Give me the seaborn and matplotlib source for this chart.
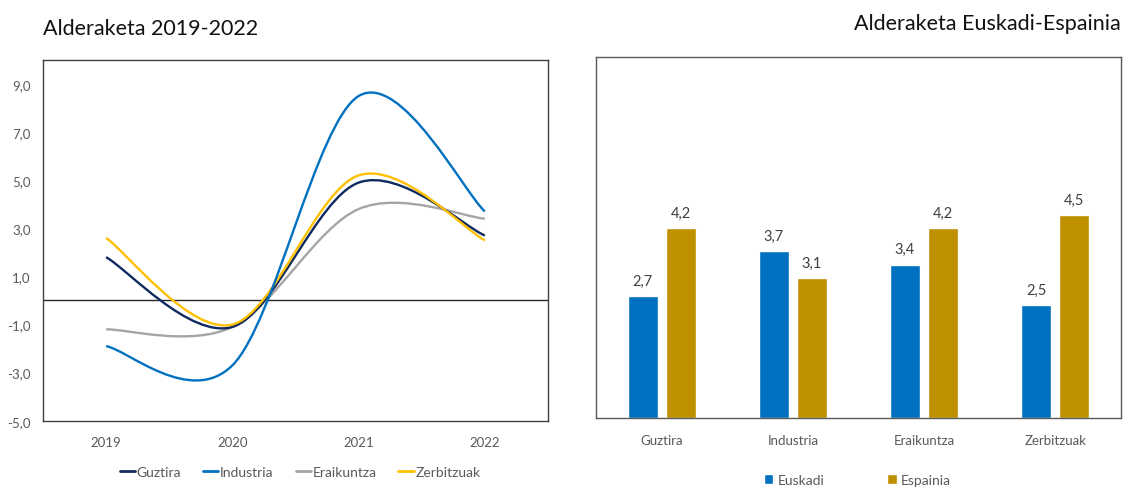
import matplotlib
matplotlib.use("Agg")
import matplotlib.pyplot as plt
import pandas as pd
import seaborn as sns
from matplotlib.path import Path
from matplotlib.patches import PathPatch, Patch
from matplotlib.lines import Line2D

# left chart: yearly change by sector
years = ["2019", "2020", "2021", "2022"]
guztira = [1.8, -1.1, 4.9, 2.7]
industria = [-1.9, -2.7, 8.5, 3.7]
eraikuntza = [-1.2, -1.1, 3.8, 3.4]
zerbitzuak = [2.6, -1.0, 5.2, 2.5]

# right chart: Euskadi vs Espainia
sectors = ["Guztira", "Industria", "Eraikuntza", "Zerbitzuak"]
euskadi = [2.7, 3.7, 3.4, 2.5]
espainia = [4.2, 3.1, 4.2, 4.5]

line_colors = {"Guztira": "#0E2A5E", "Industria": "#0070C0",
               "Eraikuntza": "#A5A5A5", "Zerbitzuak": "#FFC000"}
bar_colors = {"Euskadi": "#0070C0", "Espainia": "#BF9000"}
txt = "#595959"


def smooth_path(ys):
    # Excel-like smoothed line: cubic bezier through every point
    xs = list(range(len(ys)))
    n = len(ys)
    verts = [(xs[0], ys[0])]
    codes = [Path.MOVETO]
    for i in range(n - 1):
        a = i - 1 if i > 0 else i
        b = i + 2 if i + 2 < n else i + 1
        c1 = (xs[i] + (xs[i + 1] - xs[a]) / 6, ys[i] + (ys[i + 1] - ys[a]) / 6)
        c2 = (xs[i + 1] - (xs[b] - xs[i]) / 6, ys[i + 1] - (ys[b] - ys[i]) / 6)
        verts += [c1, c2, (xs[i + 1], ys[i + 1])]
        codes += [Path.CURVE4] * 3
    return Path(verts, codes)


sns.set_theme(style="white")
plt.rcParams["font.family"] = ["Lato", "DejaVu Sans"]

fig = plt.figure(figsize=(11.28, 4.89), dpi=100)
ax1 = fig.add_axes([0.0381, 0.1376, 0.4477, 0.7377])
ax2 = fig.add_axes([0.5284, 0.1425, 0.4652, 0.7395])

# ---- left: smoothed lines
series = {"Guztira": guztira, "Industria": industria,
          "Eraikuntza": eraikuntza, "Zerbitzuak": zerbitzuak}
order = ["Eraikuntza", "Guztira", "Zerbitzuak", "Industria"]
for name in order:
    patch = PathPatch(smooth_path(series[name]), facecolor="none",
                      edgecolor=line_colors[name], lw=1.7, zorder=3)
    ax1.add_patch(patch)
ax1.axhline(0, color="#262626", lw=1, zorder=2)
ax1.set_xlim(-0.5, 3.5)
ax1.set_ylim(-5, 10)
yt = [-5, -3, -1, 1, 3, 5, 7, 9]
ax1.set_yticks(yt)
ax1.set_yticklabels([f"{v:.1f}".replace(".", ",") for v in yt])
ax1.set_xticks(range(len(years)))
ax1.set_xticklabels(years)
ax1.tick_params(axis="y", length=0, pad=9, labelsize=9.5, labelcolor=txt)
ax1.tick_params(axis="x", length=0, pad=11, labelsize=9.5, labelcolor=txt)
for s in ax1.spines.values():
    s.set_color("#404040")
    s.set_linewidth(1)
ax1.set_title("Alderaketa 2019-2022", loc="left", fontsize=15.5,
              color="#111111", pad=19)
handles = [Line2D([0], [0], color=line_colors[k], lw=2) for k in series]
fig.legend(handles, list(series), loc="center", bbox_to_anchor=(0.266, 0.033),
           ncol=4, frameon=False, handlelength=1.1, handletextpad=0.1,
           columnspacing=1.6, fontsize=10, labelcolor=txt)

# ---- right: grouped bars
df = pd.DataFrame({
    "sector": sectors * 2,
    "region": ["Euskadi"] * len(sectors) + ["Espainia"] * len(sectors),
    "value": euskadi + espainia,
})
sns.barplot(data=df, x="sector", y="value", hue="region", palette=bar_colors,
            width=0.58, gap=0.21, ax=ax2, legend=False, saturation=1)
for cont in ax2.containers:
    ax2.bar_label(cont, fmt=lambda v: f"{v:.1f}".replace(".", ","), padding=6,
                  fontsize=10.5, color="#404040")
ax2.set_ylim(0, 8)
ax2.set_xlim(-0.5, 3.5)
ax2.set_yticks([])
ax2.set_xlabel("")
ax2.set_ylabel("")
ax2.tick_params(axis="x", length=0, pad=11, labelsize=9.5, labelcolor=txt)
for s in ax2.spines.values():
    s.set_color("#595959")
    s.set_linewidth(1)
ax2.set_title("Alderaketa Euskadi-Espainia", loc="right", fontsize=15.5,
              color="#111111", pad=20)
bh = [Patch(facecolor=bar_colors[k]) for k in bar_colors]
fig.legend(bh, list(bar_colors), loc="center", bbox_to_anchor=(0.760, 0.017),
           ncol=2, frameon=False, handlelength=0.7, handleheight=0.7,
           handletextpad=0.3, columnspacing=4.5, fontsize=10, labelcolor=txt)

fig.savefig("out.png", dpi=100)
